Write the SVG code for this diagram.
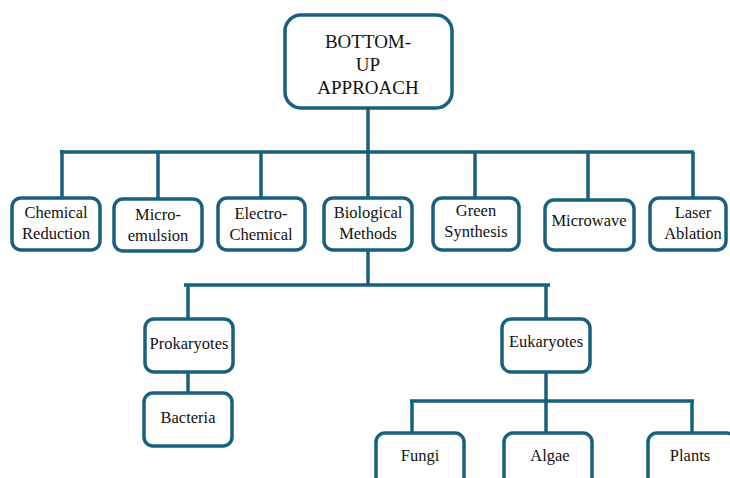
<svg xmlns="http://www.w3.org/2000/svg" width="730" height="478" viewBox="0 0 730 478">
<style>
.box{fill:#fff;stroke:#17607e;stroke-width:3.5}
.ln{fill:none;stroke:#17607e;stroke-width:3.5;stroke-linecap:butt}
.t{font-size:16.5px;fill:#111;text-anchor:middle}
.big{font-size:19px}
</style>
<rect width="730" height="478" fill="#fff"/>
<g id="connectors">
<path class="ln" d="M368,108 V152 M60,152 H694 M62,150 V198 M158,152 V199 M261,152 V198 M368,152 V198 M475,152 V198 M588,152 V200 M693,152 V198"/>
<path class="ln" d="M368,250 V285 M184,285 H550 M188,285 V319 M546,285 V319 M188,372 V393"/>
<path class="ln" d="M546,372 V401 M410,401 H694 M412,400 V433 M546,401 V433 M692,401 V433"/>
</g>
<g font-family="Liberation Serif, Times New Roman, serif" style="font-family:'Liberation Serif',serif">
<g id="root"><rect class="box" x="285" y="15" width="167" height="93" rx="16"/>
<text class="t big" x="368" y="48">BOTTOM-</text><text class="t big" x="368" y="71">UP</text><text class="t big" x="368" y="94">APPROACH</text></g>
<g id="chem"><rect class="box" x="12" y="198" width="88" height="52" rx="9"/><text class="t" x="56" y="218">Chemical</text><text class="t" x="56" y="239">Reduction</text></g>
<g id="micro"><rect class="box" x="114" y="199" width="88" height="52" rx="9"/><text class="t" x="158" y="220">Micro-</text><text class="t" x="158" y="241">emulsion</text></g>
<g id="electro"><rect class="box" x="218" y="198" width="87" height="52" rx="9"/><text class="t" x="261" y="219">Electro-</text><text class="t" x="261" y="240">Chemical</text></g>
<g id="bio"><rect class="box" x="324" y="198" width="88" height="52" rx="9"/><text class="t" x="368" y="218">Biological</text><text class="t" x="368" y="239">Methods</text></g>
<g id="green"><rect class="box" x="433" y="198" width="86" height="52" rx="9"/><text class="t" x="476" y="216">Green</text><text class="t" x="476" y="237">Synthesis</text></g>
<g id="microwave"><rect class="box" x="545" y="200" width="89" height="50" rx="9"/><text class="t" x="589" y="226">Microwave</text></g>
<g id="laser"><rect class="box" x="650" y="198" width="76" height="52" rx="9"/><text class="t" x="693" y="218">Laser</text><text class="t" x="693" y="239">Ablation</text></g>
<g id="prok"><rect class="box" x="145" y="319" width="88" height="53" rx="9"/><text class="t" x="189" y="349">Prokaryotes</text></g>
<g id="bact"><rect class="box" x="144" y="393" width="88" height="53" rx="9"/><text class="t" x="188" y="423">Bacteria</text></g>
<g id="euk"><rect class="box" x="502" y="319" width="88" height="53" rx="9"/><text class="t" x="546" y="347">Eukaryotes</text></g>
<g id="fungi"><rect class="box" x="376" y="433" width="88" height="60" rx="9"/><text class="t" x="420" y="461">Fungi</text></g>
<g id="algae"><rect class="box" x="504" y="433" width="88" height="60" rx="9"/><text class="t" x="550" y="461">Algae</text></g>
<g id="plants"><rect class="box" x="648" y="433" width="88" height="60" rx="9"/><text class="t" x="690" y="461">Plants</text></g>
</g>
</svg>
